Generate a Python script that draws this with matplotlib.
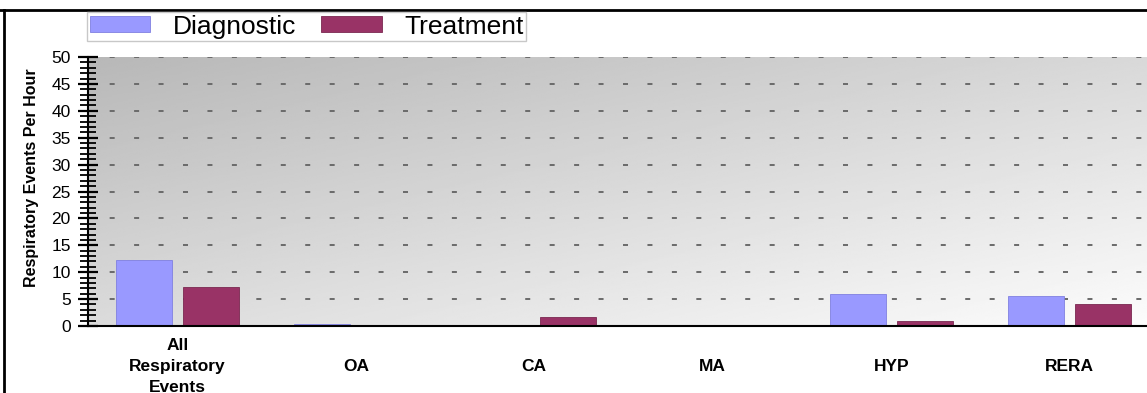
#!/usr/bin/env python3
"""
Indice de eventos respiratorios por hora: diagnostico vs tratamiento
"""

import numpy as np
import matplotlib
matplotlib.use('Agg')
import matplotlib.pyplot as plt
from matplotlib.lines import Line2D
from matplotlib.ticker import MultipleLocator

# Datos
categorias = ['All\nRespiratory\nEvents', 'OA', 'CA', 'MA', 'HYP', 'RERA']
diagnostico = [12.3, 0.3, 0.0, 0.0, 6.0, 5.5]
tratamiento = [7.3, 0.0, 1.7, 0.0, 0.9, 4.1]
series = ['Diagnostic', 'Treatment']

COLOR_DIAG = '#9999ff'
COLOR_TRAT = '#993366'

plt.rcParams['font.family'] = ['Liberation Sans', 'DejaVu Sans']
plt.rcParams['lines.scale_dashes'] = False

fig = plt.figure(figsize=(11.47, 3.93), dpi=100)
ax = fig.add_axes([88 / 1147, 1 - 326 / 393, 1071 / 1147, 269 / 393])

# Fondo con degradado diagonal (oscuro arriba a la izquierda)
gx, gy = np.meshgrid(np.linspace(0, 1, 200), np.linspace(0, 1, 200))
gris = 0.72 + 0.13 * gx + 0.14 * gy
ax.imshow(gris, cmap='gray', vmin=0, vmax=1, extent=[0, 1, 0, 1],
          transform=ax.transAxes, aspect='auto', origin='upper', zorder=0)

x = np.arange(len(categorias))
ancho = 0.315
ax.bar(x - 0.188, diagnostico, ancho, color=COLOR_DIAG, edgecolor='#8080e0',
       linewidth=0.6, label=series[0], zorder=3)
ax.bar(x + 0.188, tratamiento, ancho, color=COLOR_TRAT, edgecolor='#7a2850',
       linewidth=0.6, label=series[1], zorder=3)

ax.set_xlim(-0.5, len(categorias) - 0.5)
ax.set_ylim(0, 50)

# Rejilla de guiones cortos
ax.yaxis.set_major_locator(MultipleLocator(5))
ax.yaxis.set_minor_locator(MultipleLocator(1))
ax.yaxis.grid(True, which='major', color='#6a6a6a', linewidth=1.4,
              linestyle=(2, (3.6, 14)), zorder=1)
ax.set_axisbelow(True)

ax.tick_params(axis='y', which='major', direction='inout', length=15,
               width=1.6, labelsize=12.5, pad=5, color='black')
ax.tick_params(axis='y', which='minor', direction='inout', length=11,
               width=1.3, color='black')
ax.set_xticks(x)
ax.set_xticklabels(categorias, fontsize=12.5, fontweight='bold',
                   va='center', linespacing=1.5)
ax.tick_params(axis='x', length=0, pad=29)

for lado in ['top', 'right']:
    ax.spines[lado].set_visible(False)
ax.spines['left'].set_linewidth(1.5)
ax.spines['bottom'].set_linewidth(1.5)
ax.spines['bottom'].set_zorder(4)

ax.set_ylabel('Respiratory Events Per Hour', fontsize=11.5, fontweight='bold')
ax.yaxis.set_label_coords(-0.046, 0.55)

# Leyenda arriba
fig.legend(loc='upper left', bbox_to_anchor=(87 / 1147, 1 - 12 / 393),
           ncol=2, fontsize=19, frameon=True, fancybox=False,
           edgecolor='#c8c8c8', framealpha=1, borderpad=0.1,
           handlelength=2.3, handleheight=0.55, handletextpad=0.85,
           columnspacing=0.95, borderaxespad=0)

# Marco del recuadro original (arriba e izquierda)
fig.add_artist(Line2D([0, 1], [1 - 10 / 393, 1 - 10 / 393],
                      transform=fig.transFigure, color='black', linewidth=2))
fig.add_artist(Line2D([4 / 1147, 4 / 1147], [0, 1 - 10 / 393],
                      transform=fig.transFigure, color='black', linewidth=2))

plt.savefig('out.png', dpi=100)
